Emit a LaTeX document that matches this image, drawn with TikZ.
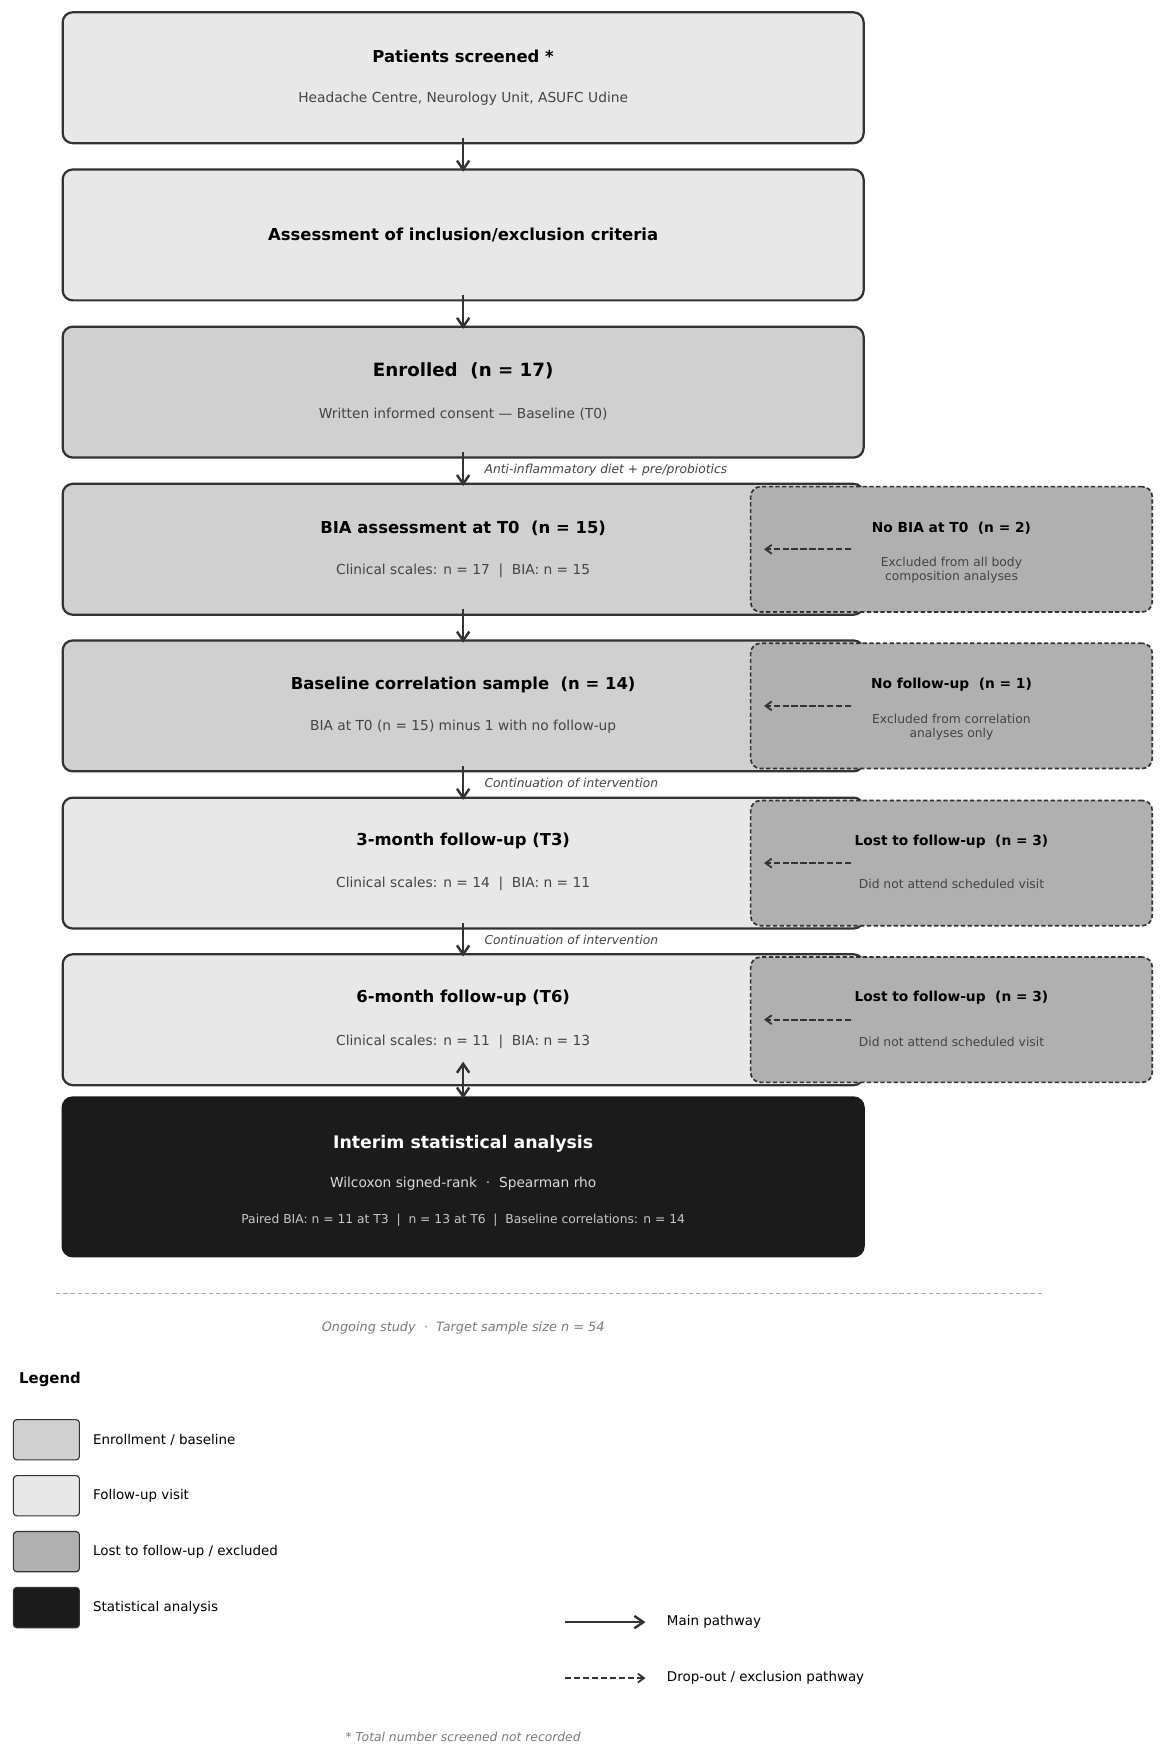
\documentclass[tikz,border=0pt]{standalone}
\usepackage{fontspec}
\setmainfont{DejaVu Sans}
\usepackage{tikz}
\usetikzlibrary{arrows.meta,positioning}
\definecolor{visitfill}{HTML}{E8E8E8}
\definecolor{enrolfill}{HTML}{D0D0D0}
\definecolor{lostfill}{HTML}{B0B0B0}
\definecolor{statfill}{HTML}{1B1B1B}
\definecolor{edgegray}{HTML}{333333}
\definecolor{subgray}{HTML}{444444}
\definecolor{notegray}{HTML}{7A7A7A}

\begin{document}
\begin{tikzpicture}[x=1pt,y=-1pt,
  mainbox/.style={draw=edgegray,line width=2pt,rounded corners=9pt,minimum width=716pt,minimum height=117pt,inner sep=0pt},
  lostbox/.style={draw=edgegray,dash pattern=on 3.8pt off 2.2pt,line width=1.5pt,rounded corners=9pt,fill=lostfill,minimum width=359pt,minimum height=112pt,inner sep=0pt},
  boxtitle/.style={inner sep=0pt,font=\fontsize{14.7}{17}\selectfont\bfseries},
  boxsub/.style={inner sep=0pt,text=subgray,font=\fontsize{12.3}{14}\selectfont},
  losttitle/.style={inner sep=0pt,font=\fontsize{12.3}{14}\selectfont\bfseries},
  lostsub/.style={inner sep=0pt,text=subgray,align=center,font=\fontsize{11}{12.5}\selectfont},
  steplabel/.style={inner sep=0pt,anchor=west,text=subgray,font=\fontsize{11}{13}\selectfont\itshape},
  notelabel/.style={inner sep=0pt,text=notegray,font=\fontsize{11.5}{13}\selectfont\itshape},
  legendbox/.style={draw=edgegray,line width=1pt,rounded corners=3pt,minimum width=59pt,minimum height=36pt,inner sep=0pt},
  legendtext/.style={inner sep=0pt,anchor=west,font=\fontsize{12}{14}\selectfont},
  mainarrow/.style={draw=edgegray,line width=2.2pt,-{Straight Barb[length=8pt,width=11pt,line width=2.2pt]}},
  droparrow/.style={draw=edgegray,line width=1.7pt,dash pattern=on 5.5pt off 2.5pt,-{Straight Barb[length=5.5pt,width=8pt,line width=1.6pt,sep=0pt]}}
]
\useasboundingbox (0,0) rectangle (1040,1567);

% main pathway
\node[mainbox,fill=visitfill] (screen) at (414,69.5) {};
\node[boxtitle,yshift=19.5pt] at (screen.center) {Patients screened *};
\node[boxsub,yshift=-18.5pt] at (screen.center) {Headache Centre, Neurology Unit, ASUFC Udine};

\node[mainbox,fill=visitfill] (assess) at (414,210) {};
\node[boxtitle] at (assess.center) {Assessment of inclusion/exclusion criteria};

\node[mainbox,fill=enrolfill] (enrol) at (414,350.5) {};
\node[boxtitle,yshift=19.5pt,font=\fontsize{16.3}{19}\selectfont\bfseries] at (enrol.center) {Enrolled\ \ (n = 17)};
\node[boxsub,yshift=-19.5pt] at (enrol.center) {Written informed consent — Baseline (T0)};

\node[mainbox,fill=enrolfill] (bia) at (414,491) {};
\node[boxtitle,yshift=19pt] at (bia.center) {BIA assessment at T0\ \ (n = 15)};
\node[boxsub,yshift=-19pt] at (bia.center) {Clinical scales: n = 17\ \ |\ \ BIA: n = 15};

\node[mainbox,fill=enrolfill] (corr) at (414,631) {};
\node[boxtitle,yshift=19pt] at (corr.center) {Baseline correlation sample\ \ (n = 14)};
\node[boxsub,yshift=-19pt] at (corr.center) {BIA at T0 (n = 15) minus 1 with no follow-up};

\node[mainbox,fill=visitfill] (fuA) at (414,771.5) {};
\node[boxtitle,yshift=19.5pt] at (fuA.center) {3-month follow-up (T3)};
\node[boxsub,yshift=-18.5pt] at (fuA.center) {Clinical scales: n = 14\ \ |\ \ BIA: n = 11};

\node[mainbox,fill=visitfill] (fuB) at (414,911.5) {};
\node[boxtitle,yshift=19.5pt] at (fuB.center) {6-month follow-up (T6)};
\node[boxsub,yshift=-19.5pt] at (fuB.center) {Clinical scales: n = 11\ \ |\ \ BIA: n = 13};

\node[mainbox,fill=statfill,draw=statfill,minimum height=142pt] (stat) at (414,1052) {};
\node[boxtitle,text=white,yshift=30pt,font=\fontsize{15.5}{18}\selectfont\bfseries] at (stat.center) {Interim statistical analysis};
\node[boxsub,text=black!15,yshift=-6pt] at (stat.center) {Wilcoxon signed-rank\ \ ·\ \ Spearman rho};
\node[boxsub,text=black!22,yshift=-39pt,font=\fontsize{11}{13}\selectfont] at (stat.center) {Paired BIA: n = 11 at T3\ \ |\ \ n = 13 at T6\ \ |\ \ Baseline correlations: n = 14};

% drop-outs
\node[lostbox] (nobia) at (850.5,491) {};
\node[losttitle,yshift=19pt] at (nobia.center) {No BIA at T0\ \ (n = 2)};
\node[lostsub,yshift=-19pt] at (nobia.center) {Excluded from all body\\composition analyses};

\node[lostbox] (nofu) at (850.5,631) {};
\node[losttitle,yshift=19pt] at (nofu.center) {No follow-up\ \ (n = 1)};
\node[lostsub,yshift=-19pt] at (nofu.center) {Excluded from correlation\\analyses only};

\node[lostbox] (lostA) at (850.5,771.5) {};
\node[losttitle,yshift=19.5pt] at (lostA.center) {Lost to follow-up\ \ (n = 3)};
\node[lostsub,yshift=-18.5pt] at (lostA.center) {Did not attend scheduled visit};

\node[lostbox] (lostB) at (850.5,911.5) {};
\node[losttitle,yshift=19.5pt] at (lostB.center) {Lost to follow-up\ \ (n = 3)};
\node[lostsub,yshift=-19.5pt] at (lostB.center) {Did not attend scheduled visit};

% connectors
\draw[mainarrow] ([yshift=6pt]screen.south) -- ([yshift=-3pt]assess.north);
\draw[mainarrow] ([yshift=6pt]assess.south) -- ([yshift=-3pt]enrol.north);
\draw[mainarrow] ([yshift=6pt]enrol.south) -- ([yshift=-3pt]bia.north);
\draw[mainarrow] ([yshift=6pt]bia.south) -- ([yshift=-3pt]corr.north);
\draw[mainarrow] ([yshift=6pt]corr.south) -- ([yshift=-3pt]fuA.north);
\draw[mainarrow] ([yshift=6pt]fuA.south) -- ([yshift=-3pt]fuB.north);
\draw[mainarrow,{Straight Barb[length=8pt,width=11pt,line width=2.2pt]}-{Straight Barb[length=8pt,width=11pt,line width=2.2pt]}] ([yshift=22pt]fuB.south) -- ([yshift=-2pt]stat.north);

\node[steplabel] at (433,420) {Anti-inflammatory diet + pre/probiotics};
\node[steplabel] at (433,700) {Continuation of intervention};
\node[steplabel] at (433,840) {Continuation of intervention};

\foreach \lost in {nobia,nofu,lostA,lostB}
  \draw[droparrow] ([xshift=-89.5pt]\lost.center) -- ([xshift=-167.5pt]\lost.center);

% footer
\draw[black!35,line width=0.8pt,dash pattern=on 4pt off 2.5pt] (50,1156) -- (933,1156);
\node[notelabel] at (414,1187) {Ongoing study\ \ ·\ \ Target sample size n = 54};

% legend
\node[inner sep=0pt,anchor=west,font=\fontsize{13.3}{15}\selectfont\bfseries] at (17,1233) {Legend};
\node[legendbox,fill=enrolfill] (lgEnrol) at (41.5,1287) {};
\node[legendtext] at (83,1287) {Enrollment / baseline};
\node[legendbox,fill=visitfill] (lgVisit) at (41.5,1337) {};
\node[legendtext] at (83,1337) {Follow-up visit};
\node[legendbox,fill=lostfill] (lgLost) at (41.5,1387) {};
\node[legendtext] at (83,1387) {Lost to follow-up / excluded};
\node[legendbox,fill=statfill] (lgStat) at (41.5,1437) {};
\node[legendtext] at (83,1437) {Statistical analysis};

\coordinate (lgMainA) at (505,1450);
\coordinate (lgMainB) at (577,1450);
\draw[mainarrow] (lgMainA) -- (lgMainB);
\node[legendtext] at (596,1450) {Main pathway};
\coordinate (lgDropA) at (505,1500);
\coordinate (lgDropB) at (577,1500);
\draw[droparrow] (lgDropA) -- (lgDropB);
\node[legendtext] at (596,1500) {Drop-out / exclusion pathway};

\node[notelabel,font=\fontsize{11}{13}\selectfont\itshape] at (414,1553) {* Total number screened not recorded};
\end{tikzpicture}
\end{document}
